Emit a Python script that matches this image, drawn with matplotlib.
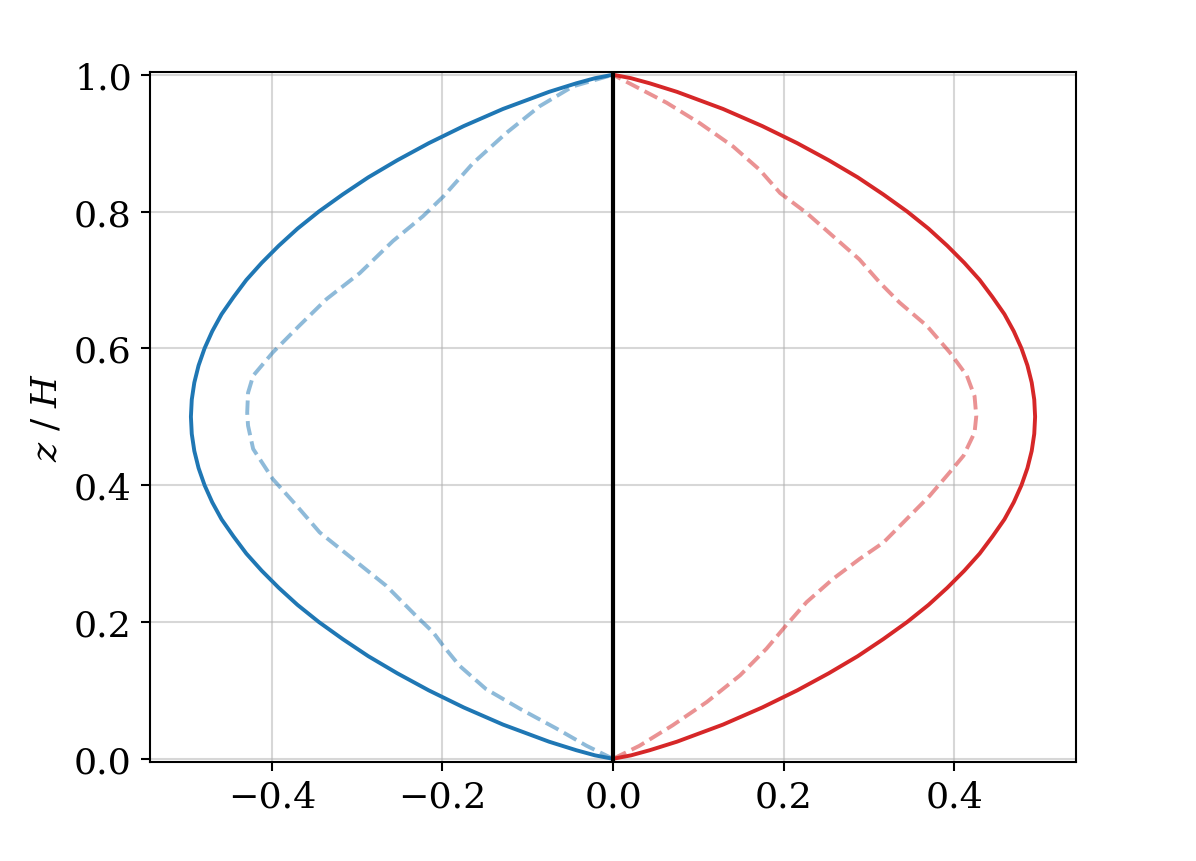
import matplotlib
matplotlib.use("Agg")
import matplotlib.pyplot as plt

# Profiles: heights (z / H) and horizontal values.
z_solid = [0.0, 0.005, 0.0125, 0.025, 0.05, 0.075, 0.1, 0.125, 0.15, 0.175, 0.2, 0.225,
           0.25, 0.275, 0.3, 0.325, 0.35, 0.375, 0.4, 0.425, 0.45, 0.475, 0.5,
           0.525, 0.55, 0.575, 0.6, 0.625, 0.65, 0.675, 0.7, 0.725, 0.75, 0.775,
           0.8, 0.825, 0.85, 0.875, 0.9, 0.925, 0.95, 0.975, 0.9875, 0.995, 1.0]
x_solid_blue = [0.0, -0.021, -0.043, -0.075, -0.129, -0.175, -0.216, -0.253, -0.287, -0.317,
                -0.345, -0.370, -0.392, -0.412, -0.430, -0.445, -0.459, -0.470, -0.479,
                -0.486, -0.491, -0.494, -0.495, -0.494, -0.491, -0.486, -0.479, -0.470,
                -0.459, -0.445, -0.430, -0.412, -0.392, -0.370, -0.345, -0.317, -0.287,
                -0.253, -0.216, -0.175, -0.129, -0.075, -0.043, -0.021, 0.0]
x_solid_red = [0.0, 0.021, 0.043, 0.075, 0.129, 0.175, 0.216, 0.253, 0.287, 0.317,
               0.345, 0.370, 0.392, 0.412, 0.430, 0.445, 0.459, 0.470, 0.479,
               0.486, 0.491, 0.494, 0.495, 0.494, 0.491, 0.486, 0.479, 0.470,
               0.459, 0.445, 0.430, 0.412, 0.392, 0.370, 0.345, 0.317, 0.287,
               0.253, 0.216, 0.175, 0.129, 0.075, 0.043, 0.021, 0.0]

z_dash_blue = [0.0, 0.019, 0.044, 0.073, 0.102, 0.136, 0.165, 0.185, 0.209, 0.253, 0.292,
               0.331, 0.370, 0.409, 0.453, 0.487, 0.506, 0.535, 0.560, 0.594, 0.633,
               0.672, 0.710, 0.757, 0.793, 0.822, 0.871, 0.915, 0.954, 0.983, 1.0]
x_dash_blue = [0.0, -0.031, -0.066, -0.109, -0.149, -0.180, -0.199, -0.211, -0.231, -0.266, -0.305,
               -0.344, -0.371, -0.399, -0.422, -0.428, -0.429, -0.428, -0.422, -0.399, -0.368,
               -0.336, -0.297, -0.258, -0.223, -0.199, -0.164, -0.125, -0.086, -0.047, 0.0]

z_dash_red = [0.0, 0.019, 0.049, 0.083, 0.122, 0.161, 0.195, 0.229, 0.263, 0.292, 0.316,
              0.350, 0.384, 0.419, 0.443, 0.477, 0.501, 0.530, 0.560, 0.594, 0.633,
              0.667, 0.696, 0.730, 0.764, 0.798, 0.827, 0.861, 0.895, 0.929, 0.959, 0.985, 1.0]
x_dash_red = [0.0, 0.031, 0.070, 0.110, 0.149, 0.180, 0.203, 0.227, 0.258, 0.289, 0.317,
              0.344, 0.371, 0.395, 0.411, 0.424, 0.426, 0.424, 0.415, 0.395, 0.368,
              0.336, 0.313, 0.289, 0.258, 0.227, 0.196, 0.172, 0.141, 0.102, 0.063, 0.023, 0.0]

z_axis = [0.0, 1.0]
x_axis = [0.0, 0.0]

plt.rcParams["font.family"] = "DejaVu Serif"
plt.rcParams["mathtext.fontset"] = "dejavuserif"
plt.rcParams["font.size"] = 14

fig = plt.figure(figsize=(6.4, 4.6127), dpi=186.875)
ax = fig.add_subplot(111)
fig.subplots_adjust(left=0.1254, right=0.8997, bottom=0.1154, top=0.9153)

ax.plot(x_dash_blue, z_dash_blue, color="tab:blue", ls="--", lw=1.5, alpha=0.5)
ax.plot(x_dash_red, z_dash_red, color="tab:red", ls="--", lw=1.5, alpha=0.5)
ax.plot(x_solid_blue, z_solid, color="tab:blue", lw=1.5)
ax.plot(x_solid_red, z_solid, color="tab:red", lw=1.5)
ax.plot(x_axis, z_axis, color="black", lw=1.6)

ax.set_xlim(-0.543, 0.543)
ax.set_ylim(-0.004, 1.004)
ax.set_ylabel("$z$ / $H$")
ax.grid(alpha=0.5)

fig.savefig("out.png", dpi=186.875)
